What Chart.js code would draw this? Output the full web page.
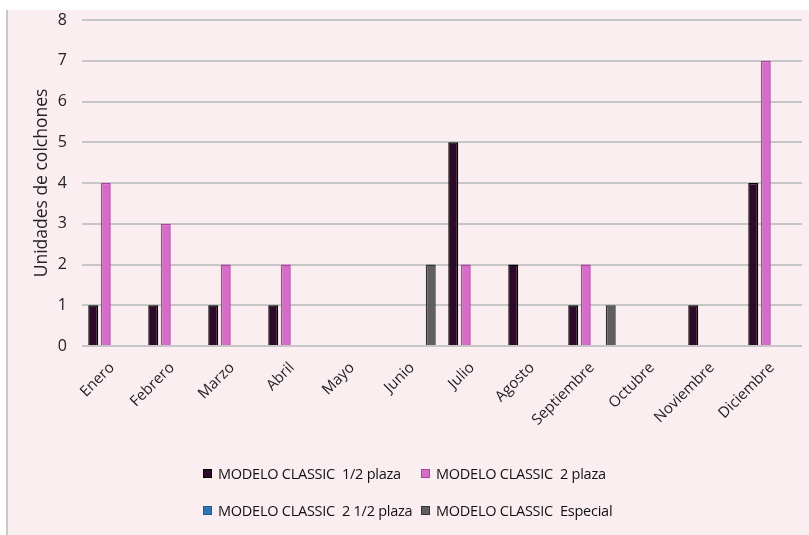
<!DOCTYPE html>
<html>
<head>
<meta charset="utf-8">
<script src="https://cdn.jsdelivr.net/npm/chart.js@4.4.1/dist/chart.umd.min.js"></script>
<style>
  html, body { margin: 0; padding: 0; background: #fff; }
  #wrap { position: relative; width: 809px; height: 535px; }
  #legend {
    position: absolute; left: 203px; top: 464px;
    display: grid; grid-template-columns: 218px auto; row-gap: 18px;
    font-family: "Open Sans", sans-serif; font-size: 14.5px; color: #111;
    letter-spacing: -0.25px;
  }
  #legend .item { display: flex; align-items: center; white-space: pre; }
  #legend .box { width: 7px; height: 7px; margin-right: 6px; border: 1px solid; }
</style>
</head>
<body>
<div id="wrap">
  <canvas id="chart" width="809" height="535"></canvas>
  <div id="legend"></div>
</div>
<script>
// Monthly sales by mattress model
const months = ['Enero', 'Febrero', 'Marzo', 'Abril', 'Mayo', 'Junio', 'Julio',
  'Agosto', 'Septiembre', 'Octubre', 'Noviembre', 'Diciembre'];
const seriesNames = ['MODELO CLASSIC  1/2 plaza', 'MODELO CLASSIC  2 plaza',
  'MODELO CLASSIC  2 1/2 plaza', 'MODELO CLASSIC  Especial'];
const medioPlaza = [1, 1, 1, 1, 0, 0, 5, 2, 1, 0, 1, 4];
const dosPlaza = [4, 3, 2, 2, 0, 0, 2, 0, 2, 0, 0, 7];
const dosMedioPlaza = [0, 0, 0, 0, 0, 0, 0, 0, 0, 0, 0, 0];
const especial = [0, 0, 0, 0, 0, 2, 0, 0, 1, 0, 0, 0];
const yTicks = [0, 1, 2, 3, 4, 5, 6, 7, 8];

const fills = ['#2e0a2a', '#d46cc8', '#2e75b6', '#5f5f5f'];
const borders = ['#000000', '#b340a6', '#1f5a92', '#333333'];

// paint page background: white strip, pink panel and grey left rule
const background = {
  id: 'background',
  beforeDraw(chart) {
    const ctx = chart.ctx;
    ctx.save();
    ctx.fillStyle = '#ffffff';
    ctx.fillRect(0, 0, chart.width, chart.height);
    ctx.fillStyle = '#fbeef0';
    ctx.fillRect(8, 10, chart.width - 8, chart.height - 10);
    ctx.fillStyle = '#c8c8c8';
    ctx.fillRect(6, 10, 2, chart.height - 10);
    ctx.restore();
  }
};

const values = [medioPlaza, dosPlaza, dosMedioPlaza, especial];
const datasets = seriesNames.map((name, i) => ({
  label: name,
  data: values[i],
  backgroundColor: fills[i],
  borderColor: borders[i],
  borderWidth: (c) => (c.raw ? 1.5 : 0),
  borderSkipped: 'start',
  barPercentage: 0.8,
  categoryPercentage: 0.833
}));

const chart = new Chart(document.getElementById('chart'), {
  type: 'bar',
  data: { labels: months, datasets: datasets },
  options: {
    responsive: false,
    animation: false,
    layout: { padding: { top: 20, right: 7, bottom: 100, left: 32 } },
    plugins: {
      legend: { display: false },
      tooltip: { enabled: false }
    },
    scales: {
      x: {
        grid: { display: false },
        border: { display: false },
        ticks: {
          minRotation: 45, maxRotation: 45,
          color: '#222',
          font: { family: 'Open Sans', size: 15 },
          padding: 5
        },
        afterFit: (scale) => {
          scale.paddingLeft = 0;
          scale.paddingRight = 0;
          scale.height = 89;
        }
      },
      y: {
        min: 0, max: 8,
        afterBuildTicks: (axis) => { axis.ticks = yTicks.map((v) => ({ value: v })); },
        grid: { color: '#c6c6c6', lineWidth: 2, drawTicks: false },
        border: { display: false },
        ticks: {
          color: '#222',
          font: { family: 'Open Sans', size: 16 },
          padding: 15
        },
        title: {
          display: true,
          text: 'Unidades de colchones',
          color: '#222',
          font: { family: 'Open Sans', size: 17.5 },
          padding: 0
        },
        afterFit: (scale) => {
          scale.paddingTop = 0;
          scale.paddingBottom = 0;
          scale.width = 50;
        }
      }
    }
  },
  plugins: [background]
});

// legend in two rows underneath the plot
const legend = document.getElementById('legend');
chart.data.datasets.forEach((ds) => {
  const item = document.createElement('div');
  item.className = 'item';
  const box = document.createElement('span');
  box.className = 'box';
  box.style.background = ds.backgroundColor;
  box.style.borderColor = ds.borderColor;
  item.appendChild(box);
  item.appendChild(document.createTextNode(ds.label));
  legend.appendChild(item);
});
</script>
</body>
</html>
